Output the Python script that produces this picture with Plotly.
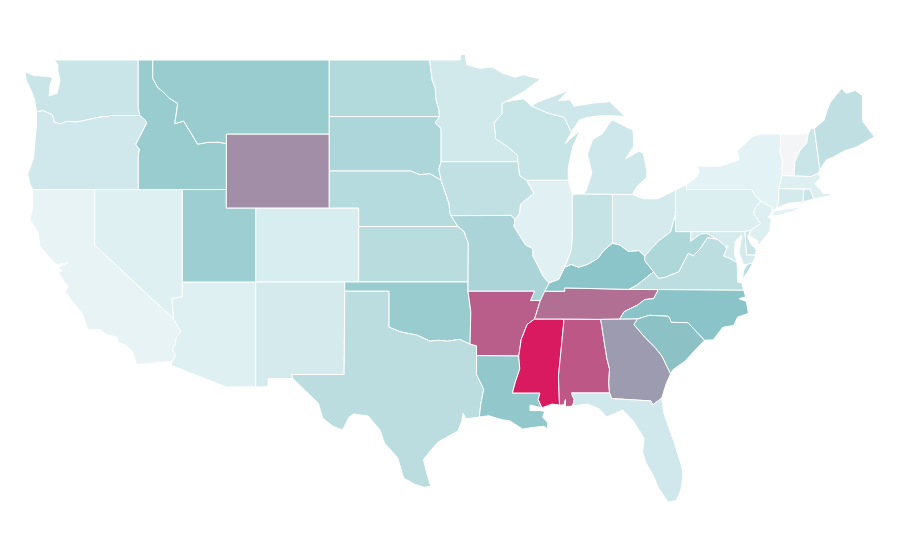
import plotly.graph_objects as go
from plotly.colors import sample_colorscale

# shared borders as (lon, lat), the topojson is not reachable here so outlines are kept in the file
COLUMBIA = [(-123.95,46.2),(-123.5,46.26),(-123.2,46.15),(-122.9,46.05),(-122.8,45.85),(-122.75,45.62),(-122.3,45.55),
            (-121.9,45.68),(-121.2,45.65),(-120.65,45.73),(-119.6,45.92),(-119.0,45.95),(-118.98,46.0),(-116.92,46.0)]
SNAKE = [(-116.92,46.0),(-116.55,45.75),(-116.46,45.6),(-116.7,45.2),(-116.85,44.95),(-117.2,44.45),(-117.05,44.25),
         (-116.95,44.2),(-117.03,43.8),(-117.03,42.0)]
BITTERROOT = [(-116.05,49.0),(-116.05,48.0),(-115.7,47.5),(-115.3,47.25),(-114.95,46.95),(-114.35,46.65),(-114.55,45.56),
              (-113.95,45.7),(-113.45,45.05),(-113.0,44.45),(-112.3,44.55),(-111.5,44.55),(-111.05,44.48)]
COLORADO_R = [(-114.63,35.0),(-114.14,34.3),(-114.43,34.05),(-114.53,33.6),(-114.72,33.4),(-114.5,33.0),(-114.72,32.72)]
RED_NORTH = [(-97.23,49.0),(-97.15,48.5),(-97.05,47.9),(-96.85,47.5),(-96.8,46.9),(-96.6,46.3),(-96.56,45.94)]
RED_SOUTH = [(-100.0,34.56),(-99.2,34.3),(-98.1,34.13),(-97.7,33.98),(-97.2,33.8),(-96.6,33.85),(-96.0,33.8),(-95.2,33.9),(-94.48,33.64)]
MISSOURI_R = [(-96.45,42.5),(-96.1,41.7),(-95.9,41.2),(-95.85,40.7),(-95.77,40.58)]
MISS_UPPER = [(-92.75,44.75),(-91.9,44.3),(-91.25,43.85),(-91.22,43.5),(-91.1,42.75),(-90.65,42.5)]
MISS_IL = [(-90.65,42.5),(-90.15,41.8),(-91.05,41.2),(-91.1,40.7),(-91.42,40.38),(-91.5,40.0),(-90.7,39.0),(-90.2,38.8),
           (-90.2,38.4),(-89.5,37.3),(-89.1,36.95)]
MISS_LOWER = [(-90.1,35.0),(-90.6,34.7),(-91.0,33.9),(-91.17,33.0),(-91.1,32.3),(-91.4,31.6),(-91.6,31.0)]
OHIO_KY = [(-82.6,38.4),(-83.0,38.7),(-83.7,38.65),(-84.3,39.0),(-84.8,39.1),(-85.4,38.7),(-85.8,38.27),(-86.5,37.95),
           (-87.1,37.8),(-87.6,37.95),(-88.05,37.8),(-88.45,37.15),(-89.1,36.95)]
SMOKIES = [(-81.68,36.59),(-82.0,36.1),(-82.6,36.05),(-83.1,35.75),(-84.0,35.4),(-84.32,34.99)]
SAVANNAH = [(-83.1,35.0),(-83.35,34.7),(-82.6,34.0),(-81.9,33.45),(-81.45,33.0),(-80.85,32.03)]
VA_WV = [(-77.7,39.32),(-78.35,39.4),(-78.87,38.77),(-79.3,38.42),(-79.65,38.55),(-80.3,37.55),(-81.25,37.25),(-81.68,37.2),(-82.0,37.55)]
POTOMAC = [(-76.33,38.05),(-76.9,38.3),(-77.25,38.4),(-77.04,38.79),(-77.12,38.93),(-77.7,39.32)]
NJ_WEST = [(-74.7,41.36),(-75.1,41.0),(-75.2,40.7),(-74.72,40.15),(-75.4,39.8)]

WA = [(-122.76,49.0),(-117.04,49.0),(-117.04,46.42),(-116.92,46.0)] + COLUMBIA[::-1] + [(-124.1,46.9),(-124.35,47.4),(-124.65,47.9),
     (-124.73,48.35),(-124.1,48.15),(-123.2,48.12),(-122.85,48.05),(-123.0,47.7),(-123.1,47.05),(-122.55,47.2),(-122.35,47.9),(-122.5,48.4),(-122.5,48.75)]
OR = COLUMBIA + SNAKE[1:] + [(-124.21,42.0),(-124.4,42.3),(-124.55,42.84),(-124.15,43.7),(-124.05,44.7),(-123.95,45.5)]
CA = [(-124.21,42.0),(-120.0,42.0),(-120.0,39.0)] + COLORADO_R + [(-117.15,32.53),(-117.25,32.85),(-117.4,33.2),(-117.9,33.6),(-118.4,33.75),
     (-118.5,34.03),(-119.2,34.15),(-119.6,34.42),(-120.47,34.45),(-120.65,34.9),(-120.85,35.3),(-122.0,36.45),(-121.8,36.75),(-122.05,37.0),
     (-122.45,37.5),(-122.2,37.6),(-122.45,37.78),(-121.8,38.05),(-122.5,37.95),(-122.7,38.0),(-123.7,38.9),(-123.85,39.7),(-124.4,40.35),(-124.2,41.05),(-124.2,41.75)]
NV = [(-120.0,42.0),(-114.04,42.0),(-114.04,36.2),(-114.75,36.1),(-114.63,35.0),(-120.0,39.0)]
AZ = [(-114.04,37.0),(-109.05,37.0),(-109.05,31.33),(-111.07,31.33),(-114.81,32.5)] + COLORADO_R[::-1] + [(-114.75,36.1),(-114.04,36.2)]
UT = [(-114.04,42.0),(-111.05,42.0),(-111.05,41.0),(-109.05,41.0),(-109.05,37.0),(-114.04,37.0)]
CO = [(-109.05,41.0),(-102.05,41.0),(-102.05,37.0),(-109.05,37.0)]
WY = [(-111.05,45.0),(-104.05,45.0),(-104.05,41.0),(-111.05,41.0)]
NM = [(-109.05,37.0),(-103.0,37.0),(-103.04,32.0),(-106.62,32.0),(-106.53,31.78),(-108.21,31.78),(-108.21,31.33),(-109.05,31.33)]
ID = [(-117.04,49.0)] + BITTERROOT + [(-111.05,42.0)] + SNAKE[::-1] + [(-117.04,46.42)]
MT = BITTERROOT[:1] + [(-104.05,49.0),(-104.05,45.0),(-111.05,45.0)] + BITTERROOT[:0:-1]
ND = [(-104.05,49.0)] + RED_NORTH + [(-104.05,45.94)]
SD = [(-104.05,45.94),(-96.56,45.94),(-96.85,45.6),(-96.45,45.3),(-96.45,43.5),(-96.6,43.1),(-96.45,42.5),(-97.2,42.85),(-97.9,42.8),(-98.5,43.0),(-104.05,43.0)]
NE = [(-104.05,43.0),(-98.5,43.0),(-97.9,42.8),(-97.2,42.85)] + MISSOURI_R + [(-95.31,40.0),(-102.05,40.0),(-102.05,41.0),(-104.05,41.0)]
KS = [(-102.05,40.0),(-95.31,40.0),(-94.9,39.75),(-94.6,39.1),(-94.62,37.0),(-102.05,37.0)]
OK = [(-103.0,37.0),(-94.62,37.0),(-94.62,36.5),(-94.43,35.4)] + RED_SOUTH[::-1] + [(-100.0,36.5),(-103.0,36.5)]
TX = [(-106.62,32.0),(-103.04,32.0),(-103.0,36.5),(-100.0,36.5)] + RED_SOUTH + [(-94.04,33.55),(-94.04,32.0),(-93.55,31.2),(-93.75,30.4),(-93.85,29.7),
     (-94.75,29.6),(-94.95,29.9),(-95.05,29.45),(-95.3,28.95),(-96.65,28.35),(-97.15,27.9),(-97.65,27.4),(-97.4,26.6),(-97.15,25.96),(-97.6,25.9),(-98.2,26.05),(-99.0,26.4),(-99.4,27.5),
     (-100.3,28.3),(-100.6,29.0),(-101.4,29.75),(-102.4,29.87),(-102.7,29.7),(-103.15,29.0),(-103.8,29.2),(-104.5,29.65),(-104.8,30.45),(-105.8,31.2),(-106.53,31.78)]
MN = RED_NORTH[:1] + [(-95.15,49.0),(-95.15,49.3),(-94.8,49.3),(-94.7,48.75),(-93.8,48.55),(-92.95,48.62),(-92.3,48.3),(-91.4,48.07),(-90.85,48.2),(-89.7,47.97),
     (-90.8,47.3),(-92.05,46.75),(-92.3,46.65),(-92.3,46.1),(-92.85,45.6),(-92.75,45.0)] + MISS_UPPER[:4] + [(-96.45,43.5),(-96.45,45.3),(-96.85,45.6)] + RED_NORTH[:0:-1]
IA = [(-96.45,43.5)] + MISS_UPPER[3:] + MISS_IL[1:5] + [(-91.7,40.6)] + MISSOURI_R[::-1] + [(-96.6,43.1)]
MO = [(-95.77,40.58),(-91.7,40.6)] + MISS_IL[4:] + [(-89.4,36.5),(-89.7,36.0),(-90.37,36.0),(-90.1,36.5),(-94.62,36.5),(-94.62,37.0),(-94.6,39.1),(-94.9,39.75),(-95.31,40.0)]
AR = [(-94.62,36.5),(-90.1,36.5),(-90.37,36.0),(-89.7,36.0)] + MISS_LOWER[:4] + [(-94.04,33.02),(-94.04,33.55),(-94.48,33.64),(-94.43,35.4)]
LA = [(-94.04,33.02)] + MISS_LOWER[3:] + [(-89.73,31.0),(-89.85,30.65),(-89.6,30.2),(-90.4,30.35),(-90.4,30.05),(-89.75,30.05),(-89.4,30.0),(-89.55,29.7),(-89.2,29.4),(-89.2,29.05),(-89.45,29.2),
     (-90.1,29.15),(-90.9,29.05),(-91.8,29.5),(-92.3,29.55),(-93.2,29.77),(-93.85,29.7),(-93.75,30.4),(-93.55,31.2),(-94.04,32.0)]
MS = [(-90.1,35.0),(-88.2,35.0),(-88.1,34.9),(-88.47,31.9),(-88.4,30.35),(-88.9,30.4),(-89.6,30.2),(-89.85,30.65),(-89.73,31.0)] + MISS_LOWER[::-1]
AL = [(-88.2,35.0),(-85.6,34.98),(-85.18,32.87),(-85.0,32.3),(-85.05,31.55),(-85.0,31.0),(-87.6,31.0),(-87.4,30.65),(-87.5,30.3),(-88.0,30.25),(-88.0,30.65),(-88.1,30.35),(-88.4,30.35),(-88.47,31.9),(-88.1,34.9)]
TN = [(-89.7,36.0),(-89.4,36.5),(-88.05,36.5),(-88.05,36.68),(-83.68,36.6)] + SMOKIES + [(-85.6,34.98),(-88.2,35.0),(-90.1,35.0)]
KY = [(-89.4,36.5),(-88.05,36.5),(-88.05,36.68),(-83.68,36.6),(-83.1,36.85),(-82.0,37.55),(-82.6,38.15)] + OHIO_KY
IL = [(-90.65,42.5),(-87.8,42.5),(-87.53,41.7),(-87.53,39.35),(-87.6,38.7)] + OHIO_KY[10:] + MISS_IL[:0:-1]
IN = [(-87.53,41.7),(-87.2,41.75),(-86.8,41.76),(-84.8,41.76)] + OHIO_KY[4:11] + [(-87.6,38.7),(-87.53,39.35)]
OH = [(-84.8,41.76),(-83.45,41.73),(-82.7,41.5),(-81.7,41.5),(-80.52,41.97),(-80.52,40.64),(-80.85,39.7),(-81.7,39.2),(-82.0,38.9)] + OHIO_KY[:5]
MI = [(-86.8,41.76),(-84.8,41.76),(-83.45,41.73),(-83.1,42.2),(-82.5,42.6),(-82.45,43.0),(-82.7,43.95),(-83.0,44.07),(-83.9,43.65),(-83.35,44.35),(-83.4,45.2),(-84.8,45.75),
      (-85.0,45.6),(-85.5,45.0),(-86.15,44.7),(-86.5,43.9),(-86.2,42.9),(-86.6,41.9)]
MI_UPPER = [(-90.3,46.5),(-89.1,46.1),(-88.1,45.9),(-87.6,45.1),(-87.05,45.75),(-86.5,45.9),(-85.4,46.0),(-84.7,45.98),(-83.95,45.95),(-84.6,46.45),(-85.0,46.75),(-86.1,46.67),
            (-87.4,46.5),(-87.7,46.85),(-88.45,46.8),(-87.8,47.35),(-88.9,47.0),(-89.9,46.72)]
WI = [(-92.3,46.65),(-92.05,46.75),(-90.85,46.9),(-90.3,46.5),(-89.1,46.1),(-88.1,45.9),(-87.6,45.1),(-88.0,44.5),(-87.0,45.2),(-87.5,44.3),(-87.8,43.2),(-87.8,42.5)] + MISS_UPPER[::-1] + [(-92.75,45.0),(-92.85,45.6),(-92.3,46.1)]
PA = [(-80.52,41.97),(-79.76,42.27),(-79.76,42.0),(-75.35,42.0),(-75.05,41.6)] + NJ_WEST + [(-75.8,39.72),(-80.52,39.72)]
NY = [(-79.76,42.27),(-79.05,42.7),(-78.9,43.0),(-79.05,43.27),(-77.5,43.25),(-76.5,43.5),(-76.2,43.6),(-76.3,44.1),(-75.3,44.85),(-74.7,45.0),(-73.35,45.0),(-73.4,44.0),(-73.25,43.6),
      (-73.27,42.75),(-73.5,42.05),(-73.5,41.3),(-73.65,41.0),(-73.9,40.8),(-73.9,41.0),(-74.7,41.36),(-75.05,41.6),(-75.35,42.0),(-79.76,42.0)]
LONG_ISLAND = [(-74.0,40.6),(-73.75,40.85),(-72.6,40.98),(-71.9,41.07),(-72.5,40.82),(-73.5,40.59)]
NJ = [(-74.7,41.36),(-73.9,41.0),(-74.05,40.65),(-74.25,40.48),(-74.0,40.45),(-74.1,39.75),(-74.4,39.45),(-74.95,38.93),(-74.9,39.2),(-75.5,39.5),(-75.4,39.8),(-74.72,40.15),(-75.2,40.7),(-75.1,41.0)]
DE = [(-75.8,39.72),(-75.4,39.8),(-75.6,39.45),(-75.4,39.05),(-75.05,38.8),(-75.05,38.45),(-75.7,38.46)]
MD = [(-79.48,39.72),(-75.8,39.72),(-75.7,38.46),(-75.05,38.45),(-75.25,38.03),(-75.65,37.95),(-75.9,37.95),(-76.2,38.6),(-76.0,39.55),(-76.45,39.2),(-76.5,38.5)] + POTOMAC + [(-78.4,39.62),(-78.8,39.6),(-79.48,39.2)]
VA = [(-83.68,36.6),(-81.68,36.59),(-75.87,36.55),(-76.0,36.93),(-76.3,37.0),(-76.3,37.6)] + POTOMAC + VA_WV[1:] + [(-83.1,36.85)]
VA_SHORE = [(-75.25,38.03),(-75.65,37.95),(-75.9,37.6),(-75.95,37.15),(-75.6,37.55)]
WV = [(-80.52,40.64),(-80.52,39.72),(-79.48,39.72),(-79.48,39.2),(-78.8,39.6),(-78.4,39.62)] + VA_WV + [(-82.6,38.15),(-82.6,38.4),(-82.0,38.9),(-81.7,39.2),(-80.85,39.7)]
NC = SMOKIES[::-1] + [(-75.87,36.55),(-75.75,36.2),(-76.2,36.1),(-75.7,35.95),(-75.55,35.3),(-76.3,35.1),(-76.55,34.65),(-77.3,34.55),(-77.95,33.87),(-78.55,33.85),(-79.67,34.8),(-80.8,34.82),(-80.95,35.1),(-81.05,35.15),(-82.3,35.2),(-83.1,35.0)]
SC = [(-83.1,35.0),(-82.3,35.2),(-81.05,35.15),(-80.95,35.1),(-80.8,34.82),(-79.67,34.8),(-78.55,33.85),(-79.1,33.4),(-79.9,32.7),(-80.7,32.25)] + SAVANNAH[::-1]
GA = [(-85.6,34.98),(-84.32,34.99)] + SAVANNAH + [(-81.15,31.5),(-81.45,30.72),(-82.05,30.36),(-82.2,30.57),(-84.86,30.7),(-85.0,31.0),(-85.05,31.55),(-85.0,32.3),(-85.18,32.87)]
FL = [(-87.6,31.0),(-85.0,31.0),(-84.86,30.7),(-82.2,30.57),(-82.05,30.36),(-81.45,30.72),(-81.3,29.9),(-80.9,29.0),(-80.55,28.2),(-80.05,26.9),(-80.0,26.5),(-80.15,25.75),(-80.45,25.2),(-81.0,25.1),
      (-81.7,25.9),(-82.0,26.5),(-82.5,27.2),(-82.75,27.8),(-82.65,28.55),(-83.4,29.5),(-84.1,30.08),(-85.2,29.7),(-85.7,30.15),(-86.5,30.4),(-87.5,30.3),(-87.4,30.65)]
VT = [(-73.35,45.0),(-71.5,45.01),(-71.6,44.5),(-72.05,44.1),(-72.4,43.5),(-72.45,42.73),(-73.27,42.75),(-73.25,43.6),(-73.4,44.0)]
NH = [(-71.5,45.01),(-71.3,45.3),(-71.08,45.3),(-70.7,43.1),(-70.8,42.87),(-71.3,42.7),(-72.45,42.73),(-72.4,43.5),(-72.05,44.1),(-71.6,44.5)]
ME = [(-71.08,45.3),(-70.4,45.75),(-70.25,46.2),(-70.0,46.7),(-69.23,47.46),(-68.9,47.2),(-68.3,47.35),(-67.8,47.07),(-67.8,45.7),(-67.45,45.3),(-67.0,44.85),(-68.2,44.3),(-69.0,44.1),(-69.8,43.75),(-70.25,43.6),(-70.7,43.1)]
MA = [(-73.5,42.05),(-73.27,42.75),(-71.3,42.7),(-70.8,42.87),(-70.65,42.65),(-71.05,42.3),(-70.6,41.95),(-70.5,41.78),(-70.0,41.8),(-70.2,42.07),(-69.95,41.67),(-70.65,41.55),(-71.12,41.5),(-71.38,42.02),(-71.8,42.02)]
RI = [(-71.8,42.02),(-71.38,42.02),(-71.12,41.5),(-71.85,41.32)]
CT = [(-73.5,42.05),(-71.8,42.02),(-71.85,41.32),(-72.9,41.25),(-73.65,41.0),(-73.5,41.3)]
DC = [(-77.12,38.93),(-77.04,39.0),(-76.91,38.89),(-77.04,38.79)]

states = ['WA','OR','CA','NV','AZ','UT','CO','WY','NM','ID','MT','ND','SD','NE','KS','OK','TX','MN','IA','MO','AR','LA','MS','AL','TN','KY',
          'IL','IN','OH','MI','WI','PA','NY','NJ','DE','MD','VA','WV','NC','SC','GA','FL','VT','NH','ME','MA','RI','CT','DC']
rings = [[WA],[OR],[CA],[NV],[AZ],[UT],[CO],[WY],[NM],[ID],[MT],[ND],[SD],[NE],[KS],[OK],[TX],[MN],[IA],[MO],[AR],[LA],[MS],[AL],[TN],[KY],
         [IL],[IN],[OH],[MI,MI_UPPER],[WI],[PA],[NY,LONG_ISLAND],[NJ],[DE],[MD],[VA,VA_SHORE],[WV],[NC],[SC],[GA],[FL],[VT],[NH],[ME],[MA],[RI],[CT],[DC]]
rates = [20,17,6,10,10,41,13,66,15,43,43,31,34,29,28,43,27,16,24,35,80,46,100,82,75,49,
         9,22,15,18,21,12,8,11,20,15,26,33,50,51,62,17,0,20,25,11,20,15,10]

colorscale = [[0, '#f3f5f6'], [0.08, '#e3f2f4'], [0.5, '#8ac4c8'], [1, '#d91a60']]

fig = go.Figure()
for st, parts, rate in zip(states, rings, rates):
    xs, ys = [], []
    for ring in parts:
        xs += [p[0] for p in ring] + [ring[0][0], None]
        ys += [p[1] for p in ring] + [ring[0][1], None]
    fig.add_trace(go.Scatter(x=xs, y=ys, mode='lines', fill='toself', name=st,
                             fillcolor=sample_colorscale(colorscale, rate / 100)[0],
                             line=dict(color='white', width=1), hoverinfo='name'))

# page body has an 8px margin, ranges are shifted to make up for it
fig.update_xaxes(visible=False, range=[-125.89, -64.71])
fig.update_yaxes(visible=False, range=[21.54, 51.81])
fig.update_layout(width=900, height=560, margin=dict(l=0, r=0, t=0, b=0), showlegend=False,
                  paper_bgcolor='white', plot_bgcolor='white')
fig.write_html("out.html")
